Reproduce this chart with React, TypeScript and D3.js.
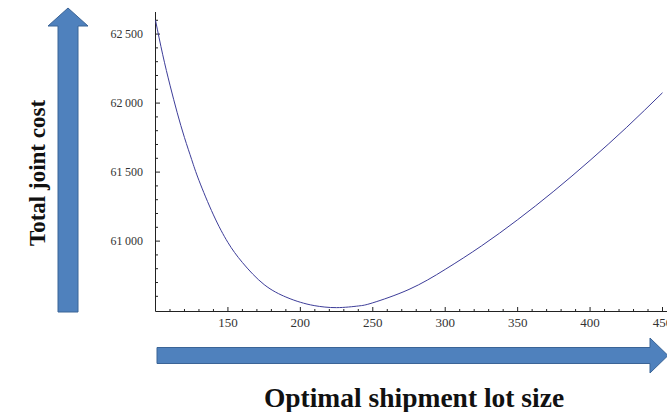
import React from "react";
import * as d3 from "d3";

// lot size (q) and total joint cost
const lotSizes = [100, 105, 110, 115, 120, 125, 130, 140, 150, 160, 175, 190, 200, 210, 225, 240, 250, 275, 300, 325, 350, 375, 400, 425, 450];
const jointCost = [62600, 62350, 62130, 61930, 61750, 61590, 61440, 61190, 60990, 60845, 60685, 60595, 60557, 60532, 60518, 60530, 60553, 60650, 60795, 60965, 61155, 61362, 61585, 61822, 62075];

const xTickValues = [150, 200, 250, 300, 350, 400, 450];
const yTickValues = [61000, 61500, 62000, 62500];

const W = 667;
const H = 412;

const fmtY = (v: number) => `${Math.floor(v / 1000)}\u2009${String(v % 1000).padStart(3, "0")}`;

const App = () => {
  const x = d3.scaleLinear().domain([100, 450]).range([155.5, 662.5]);
  const y = d3.scaleLinear().domain([60490, 62660]).range([311.5, 12]);

  const data = lotSizes.map((q, i) => ({ q, c: jointCost[i] }));
  const line = d3
    .line<{ q: number; c: number }>()
    .x((d) => x(d.q))
    .y((d) => y(d.c))
    .curve(d3.curveNatural);

  const x0 = x(100);
  const y0 = y.range()[0];
  const xMinor = d3.range(110, 451, 10).filter((v) => v % 50 !== 0);
  const yMinor = d3.range(60500, 62601, 100).filter((v) => v % 500 !== 0);

  const blue = "#4F81BD";
  const blueEdge = "#3B6496";

  // vertical arrow (left)
  const upArrow = "M58,312 L58,26 L48,26 L68,8 L88,26 L78,26 L78,312 Z";
  // horizontal arrow (bottom)
  const rightArrow = "M157,347.5 L650,347.5 L650,338 L668,355.5 L650,373 L650,363.5 L157,363.5 Z";

  return (
    <svg width={W} height={H} style={{ position: "absolute", left: 0, top: 0, background: "#fff" }}>
      <path d={upArrow} fill={blue} stroke={blueEdge} strokeWidth={1} />
      <path d={rightArrow} fill={blue} stroke={blueEdge} strokeWidth={1} />

      <text
        transform={`translate(45,173) rotate(-90)`}
        textAnchor="middle"
        fontFamily="Liberation Serif"
        fontWeight="bold"
        fontSize={23}
        fill="#111"
      >
        Total joint cost
      </text>
      <text x={414} y={407} textAnchor="middle" fontFamily="Liberation Serif" fontWeight="bold" fontSize={27.5} fill="#111">
        Optimal shipment lot size
      </text>

      {/* axes */}
      <line x1={x0} x2={x0} y1={12} y2={y0} stroke="#222" strokeWidth={1} />
      <line x1={x0} x2={W} y1={y0} y2={y0} stroke="#222" strokeWidth={1} />

      {xMinor.map((v) => (
        <line key={"xm" + v} x1={x(v)} x2={x(v)} y1={y0} y2={y0 - 2.5} stroke="#222" />
      ))}
      {xTickValues.map((v) => (
        <g key={"xt" + v}>
          <line x1={x(v)} x2={x(v)} y1={y0} y2={y0 - 4.5} stroke="#222" />
          <text x={x(v)} y={327} textAnchor="middle" fontFamily="Liberation Serif" fontSize={13} fill="#333">
            {v}
          </text>
        </g>
      ))}

      {yMinor.map((v) => (
        <line key={"ym" + v} x1={x0} x2={x0 + 2.5} y1={y(v)} y2={y(v)} stroke="#222" />
      ))}
      {yTickValues.map((v) => (
        <g key={"yt" + v}>
          <line x1={x0} x2={x0 + 4.5} y1={y(v)} y2={y(v)} stroke="#222" />
          <text x={143} y={y(v) + 4} textAnchor="end" fontFamily="Liberation Serif" fontSize={12} fill="#333">
            {fmtY(v)}
          </text>
        </g>
      ))}

      <path d={line(data) ?? ""} fill="none" stroke="#3d3d99" strokeWidth={1} />
    </svg>
  );
};

export default App;
